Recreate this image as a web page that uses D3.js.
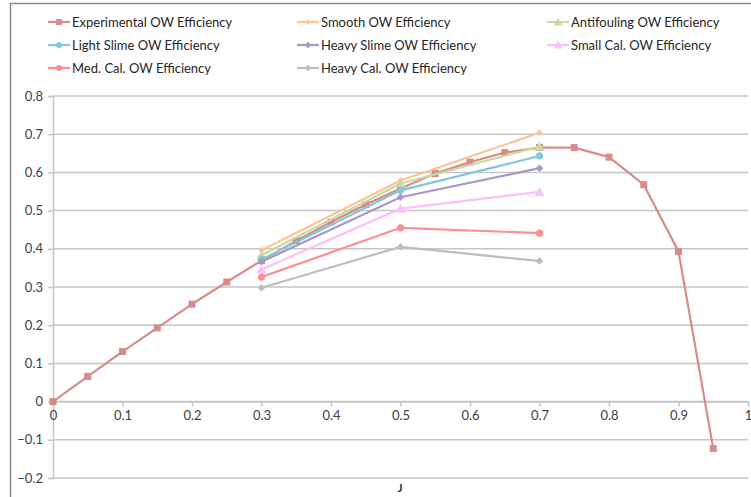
<!DOCTYPE html>
<html><head><meta charset="utf-8">
<script src="https://cdn.jsdelivr.net/npm/d3@7"></script>
<style>body{margin:0;background:#fff}svg{display:block}text{font-family:Lato,"Open Sans",sans-serif}</style>
</head><body><svg id="c" width="751" height="497"></svg>
<script>
const expJ = [0,0.05,0.1,0.15,0.2,0.25,0.3,0.35,0.4,0.45,0.5,0.55,0.6,0.65,0.7,0.75,0.8,0.85,0.9,0.95];
const expEff = [0,0.066,0.131,0.193,0.255,0.313,0.369,0.421,0.470,0.516,0.558,0.597,0.627,0.652,0.665,0.665,0.640,0.568,0.393,-0.123];
const predJ = [0.3,0.5,0.7];
const smooth = [0.396,0.579,0.704];
const antifouling = [0.383,0.571,0.668];
const lightSlime = [0.372,0.553,0.643];
const heavySlime = [0.366,0.535,0.611];
const smallCal = [0.346,0.505,0.549];
const medCal = [0.326,0.455,0.441];
const heavyCal = [0.298,0.405,0.368];
const xTicks = [0,0.1,0.2,0.3,0.4,0.5,0.6,0.7,0.8,0.9,1];
const yTicks = [-0.2,-0.1,0,0.1,0.2,0.3,0.4,0.5,0.6,0.7,0.8];

const series = [
 {name:"Experimental OW Efficiency", x:expJ, y:expEff, color:"#D68C8A", marker:"square"},
 {name:"Smooth OW Efficiency", x:predJ, y:smooth, color:"#FBC396", marker:"plus"},
 {name:"Antifouling OW Efficiency", x:predJ, y:antifouling, color:"#C8D9A6", marker:"triangle"},
 {name:"Light Slime OW Efficiency", x:predJ, y:lightSlime, color:"#84C6DA", marker:"circle"},
 {name:"Heavy Slime OW Efficiency", x:predJ, y:heavySlime, color:"#A996C9", marker:"diamond"},
 {name:"Small Cal. OW Efficiency", x:predJ, y:smallCal, color:"#FDBEFC", marker:"triangle"},
 {name:"Med. Cal. OW Efficiency", x:predJ, y:medCal, color:"#FC8F8F", marker:"circle"},
 {name:"Heavy Cal. OW Efficiency", x:predJ, y:heavyCal, color:"#BDBDBD", marker:"diamond"}
];

const svg = d3.select("#c");
const x = d3.scaleLinear().domain([0,1]).range([53,748]);
const y = d3.scaleLinear().domain([-0.2,0.8]).range([478,96]);

// outer frame
svg.append("line").attr("x1",10).attr("x2",751).attr("y1",3.5).attr("y2",3.5).attr("stroke","#8c8c8c").attr("stroke-width",1.5);
svg.append("line").attr("x1",10.5).attr("x2",10.5).attr("y1",3).attr("y2",497).attr("stroke","#8c8c8c").attr("stroke-width",1.5);

// gridlines
svg.append("g").selectAll("line").data(yTicks).join("line")
 .attr("x1",x(0)).attr("x2",x(1)).attr("y1",d=>y(d)).attr("y2",d=>y(d))
 .attr("stroke","#c6c6c6").attr("stroke-width",1.5);

// y axis
const yAxis = svg.append("g").attr("transform",`translate(${x(0)},0)`)
 .call(d3.axisLeft(y).tickValues(yTicks).tickSize(5).tickFormat(d=>d3.format("")(+d.toFixed(1))));
yAxis.select(".domain").attr("stroke","#c6c6c6").attr("stroke-width",1.5);
yAxis.selectAll(".tick line").attr("stroke","#c6c6c6").attr("stroke-width",1.5);
yAxis.selectAll("text").attr("font-size",13).attr("fill","#404040").attr("x",-10).attr("font-family","Lato, sans-serif");

// x axis at y=0
const xAxis = svg.append("g").attr("transform",`translate(0,${y(0)})`)
 .call(d3.axisBottom(x).tickValues(xTicks).tickSize(5).tickFormat(d=>d3.format("")(+d.toFixed(1))));
xAxis.select(".domain").attr("stroke","#c6c6c6").attr("stroke-width",1.5);
xAxis.selectAll(".tick line").attr("stroke","#c6c6c6").attr("stroke-width",1.5);
xAxis.selectAll("text").attr("font-size",13).attr("fill","#404040").attr("y",9).attr("font-family","Lato, sans-serif");

svg.append("text").attr("x",400).attr("y",492).attr("text-anchor","middle")
 .attr("font-size",12).attr("font-weight","bold").attr("fill","#333").text("J");

function drawMarker(g, type, cx, cy, color, scale){
  const s = scale||1;
  if(type==="square") g.append("rect").attr("x",cx-3.5*s).attr("y",cy-3.5*s).attr("width",7*s).attr("height",7*s).attr("fill",color);
  else if(type==="circle") g.append("circle").attr("cx",cx).attr("cy",cy).attr("r",3.6*s).attr("fill",color);
  else if(type==="triangle") g.append("path").attr("d",`M${cx},${cy-5*s}L${cx+5*s},${cy+4*s}L${cx-5*s},${cy+4*s}Z`).attr("fill",color);
  else if(type==="diamond") g.append("path").attr("d",`M${cx},${cy-3.8*s}L${cx+3.8*s},${cy}L${cx},${cy+3.8*s}L${cx-3.8*s},${cy}Z`).attr("fill",color);
  else if(type==="plus") g.append("path").attr("d",`M${cx},${cy-3.5*s}L${cx+3*s},${cy}L${cx},${cy+3.5*s}L${cx-3*s},${cy}Z`).attr("fill",color);
}

const line = d3.line().x(d=>x(d[0])).y(d=>y(d[1]));
series.forEach(s=>{
  const pts = s.x.map((v,i)=>[v,s.y[i]]);
  const g = svg.append("g");
  g.append("path").attr("d",line(pts)).attr("fill","none").attr("stroke",s.color).attr("stroke-width",2.2);
  pts.forEach(p=>drawMarker(g,s.marker,x(p[0]),y(p[1]),s.color));
});

// legend
const colX = [48,297,547];
const rowY = [22,45,68];
series.forEach((s,i)=>{
  const cx = colX[i%3], cy = rowY[Math.floor(i/3)];
  const g = svg.append("g");
  g.append("line").attr("x1",cx).attr("x2",cx+22).attr("y1",cy).attr("y2",cy).attr("stroke",s.color).attr("stroke-width",2.2);
  drawMarker(g,s.marker,cx+11,cy,s.color,0.85);
  g.append("text").attr("x",cx+24).attr("y",cy).attr("dy","0.35em").attr("font-size",13).attr("fill","#262626").text(s.name);
});
</script></body></html>
